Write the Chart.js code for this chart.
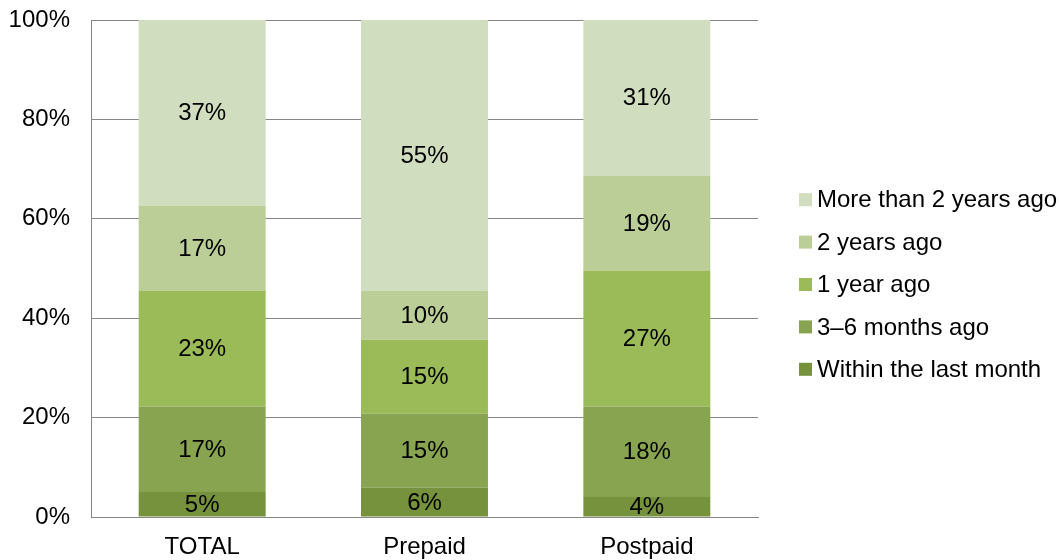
<!DOCTYPE html>
<html>
<head>
<meta charset="utf-8">
<script src="https://cdn.jsdelivr.net/npm/chart.js@4/dist/chart.umd.min.js"></script>
<style>
html,body{margin:0;padding:0;background:#fff;}
#wrap{width:1059px;height:560px;position:relative;}
</style>
</head>
<body>
<div id="wrap"><canvas id="c" width="1059" height="560"></canvas></div>
<script>
const categories = ["TOTAL", "Prepaid", "Postpaid"];
const seriesNames = ["Within the last month", "3\u20136 months ago", "1 year ago", "2 years ago", "More than 2 years ago"];
const withinLastMonth = [5, 6, 4];
const threeToSixMonths = [17, 15, 18];
const oneYearAgo = [23, 15, 27];
const twoYearsAgo = [17, 10, 19];
const moreThanTwoYears = [37, 55, 31];
const yTickLabels = ["0%", "20%", "40%", "60%", "80%", "100%"];
const colors = ["#76923C", "#89A450", "#9BBB59", "#BBCE97", "#D0DDBE"];

const rawSeries = [withinLastMonth, threeToSixMonths, oneYearAgo, twoYearsAgo, moreThanTwoYears];
const totals = categories.map((_, i) => rawSeries.reduce((s, arr) => s + arr[i], 0));

const FONT = "'Liberation Sans', Arial, sans-serif";

const datasets = rawSeries.map((arr, k) => ({
  label: seriesNames[k],
  data: arr.map((v, i) => v / totals[i] * 100),
  raw: arr,
  backgroundColor: colors[k],
  borderWidth: 0,
  categoryPercentage: 1,
  barPercentage: 0.571
}));

const labelPlugin = {
  id: 'segLabels',
  afterDatasetsDraw(chart) {
    const ctx = chart.ctx;
    ctx.save();
    ctx.font = "24px " + FONT;
    ctx.fillStyle = "#000";
    ctx.textAlign = "center";
    ctx.textBaseline = "middle";
    chart.data.datasets.forEach((ds, di) => {
      const meta = chart.getDatasetMeta(di);
      meta.data.forEach((bar, i) => {
        const top = Math.min(bar.y, bar.base), bot = Math.max(bar.y, bar.base);
        ctx.fillText(ds.raw[i] + "%", bar.x, (top + bot) / 2 + 1);
      });
    });
    ctx.restore();
  }
};

// Legend on the right, in reverse series order, drawn next to the plot
const legendPlugin = {
  id: 'sideLegend',
  afterDraw(chart) {
    const ctx = chart.ctx;
    const area = chart.chartArea;
    const n = chart.data.datasets.length;
    const step = 42.4;
    const boxX = area.right + 41, box = 13;
    const midY = (area.top + area.bottom) / 2 + 16;
    const firstY = midY - step * (n - 1) / 2;
    ctx.save();
    ctx.font = "24px " + FONT;
    ctx.textAlign = "left";
    ctx.textBaseline = "middle";
    for (let j = 0; j < n; j++) {
      const di = n - 1 - j;
      const ds = chart.data.datasets[di];
      const cy = firstY + j * step;
      ctx.fillStyle = ds.backgroundColor;
      ctx.fillRect(boxX, cy - box / 2, box, box);
      ctx.fillStyle = "#000";
      ctx.fillText(ds.label, boxX + 18, cy + 1);
    }
    ctx.restore();
  }
};

new Chart(document.getElementById('c'), {
  type: 'bar',
  data: { labels: categories, datasets },
  options: {
    responsive: false,
    animation: false,
    layout: { padding: { top: 20, right: 301, left: 0, bottom: 0 } },
    plugins: {
      legend: { display: false },
      tooltip: { enabled: false }
    },
    scales: {
      x: {
        stacked: true,
        grid: { display: false, drawTicks: false },
        border: { display: true, color: "#868686", width: 1 },
        ticks: { color: "#000", font: { family: FONT, size: 24 }, padding: 16 },
        afterFit: (s) => { s.height = 43; s.paddingLeft = 0; s.paddingRight = 0; }
      },
      y: {
        stacked: true,
        min: 0, max: 100,
        grid: { color: "#868686", lineWidth: 1, drawTicks: false },
        border: { display: true, color: "#868686", width: 1 },
        ticks: {
          stepSize: 20,
          color: "#000",
          font: { family: FONT, size: 24 },
          padding: 21,
          callback: (v) => yTickLabels[Math.round(v / 20)]
        },
        afterFit: (s) => { s.width = 91; s.paddingTop = 0; s.paddingBottom = 0; }
      }
    }
  },
  plugins: [labelPlugin, legendPlugin]
});
</script>
</body>
</html>
